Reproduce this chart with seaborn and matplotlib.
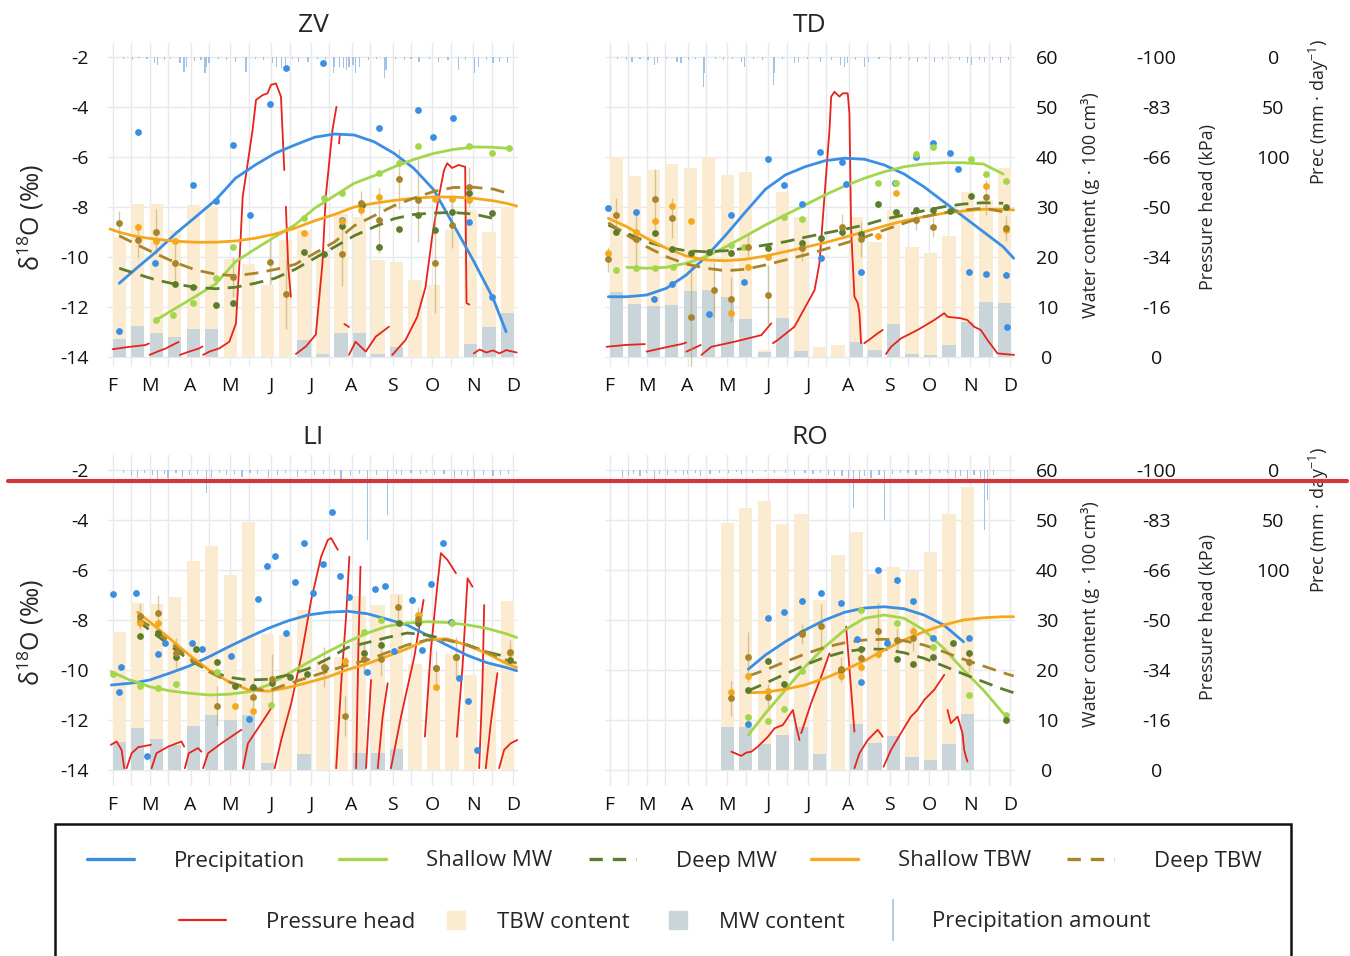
import numpy as np
import matplotlib
matplotlib.use('Agg')
import matplotlib.pyplot as plt
import seaborn as sns
from matplotlib.lines import Line2D
from matplotlib.patches import Rectangle

nan = np.nan

# ---------------- axes / ticks ----------------
MONTH_DAYS = [32, 60, 91, 121, 152, 182, 213, 244, 274, 305, 335]
MONTH_LABELS = ['F', 'M', 'A', 'M', 'J', 'J', 'A', 'S', 'O', 'N', 'D']
MID_DAYS = [46, 74, 105, 135, 166, 196, 227, 258, 288, 319]
D18O_TICKS = [-14, -12, -10, -8, -6, -4, -2]
WC_TICKS = [0, 10, 20, 30, 40, 50, 60]
PH_TICKS = [0, -16.67, -33.33, -50, -66.67, -83.33, -100]
PH_LABELS = ['0', '-16', '-34', '-50', '-66', '-83', '-100']
PREC_TICKS = [0, 50, 100]

SERIES = ['Precipitation', 'Shallow MW', 'Deep MW', 'Shallow TBW', 'Deep TBW']
BAR_DAYS = [37, 51, 65, 79, 93, 107, 121, 135, 149, 163, 177, 191, 205, 219, 233, 247, 261, 275, 289, 303, 317, 331]

# ---------------- ZV ----------------
ZV_CURVE_DAY = [30, 37, 51, 65, 80, 95, 110, 125, 140, 155, 170, 185, 200, 215, 230, 245, 260, 275, 290, 305, 320, 330, 338]
ZV_CURVE_PREC = [nan, -11.05, -10.41, -9.79, -9.05, -8.39, -7.72, -6.85, -6.32, -5.85, -5.52, -5.21, -5.08, -5.12, -5.39, -5.85, -6.45, -7.3, -8.7, -10.12, -11.64, -12.99, nan]
ZV_CURVE_SMW = [nan, nan, nan, -12.52, -12.04, -11.57, -11.08, -10.19, -9.68, -9.19, -8.72, -8.05, -7.55, -7.05, -6.75, -6.4, -6.1, -5.86, -5.7, -5.6, -5.61, -5.65, nan]
ZV_CURVE_DMW = [nan, -10.45, -10.69, -10.92, -11.09, -11.21, -11.27, -11.21, -11.05, -10.85, -10.5, -10.05, -9.6, -9.15, -8.8, -8.47, -8.3, -8.24, -8.22, -8.28, -8.45, nan, nan]
ZV_CURVE_STBW = [-8.88, -9.01, -9.19, -9.29, -9.37, -9.41, -9.41, -9.36, -9.25, -9.08, -8.85, -8.55, -8.3, -8.0, -7.85, -7.74, -7.65, -7.6, -7.6, -7.65, -7.75, -7.85, -7.96]
ZV_CURVE_DTBW = [nan, -9.15, -9.52, -9.88, -10.23, -10.52, -10.69, -10.75, -10.65, -10.5, -10.3, -9.85, -9.4, -8.75, -8.35, -7.95, -7.65, -7.38, -7.22, -7.21, -7.28, -7.43, nan]

ZV_PT_PREC_DAY = [37, 51, 64, 93, 110, 123, 136, 151, 163, 191, 206, 234, 263, 275, 290, 302, 319]
ZV_PT_PREC = [-12.96, -4.99, -10.25, -7.12, -7.77, -5.52, -8.31, -3.87, -2.43, -2.25, -8.52, -4.85, -4.12, -5.19, -4.45, -8.59, -11.59]
ZV_PT_SMW_DAY = [65, 78, 93, 110, 123, 177, 192, 206, 234, 249, 263, 302, 319, 332]
ZV_PT_SMW = [-12.5, -12.32, -11.85, -10.83, -9.61, -8.45, -7.65, -7.45, -6.65, -6.23, -5.56, -5.55, -5.85, -5.65]
ZV_PT_DMW_DAY = [79, 93, 110, 123, 177, 192, 206, 221, 234, 249, 263, 276, 289, 302, 319]
ZV_PT_DMW = [-11.08, -11.19, -11.92, -11.85, -9.8, -9.89, -8.78, -7.92, -9.6, -8.89, -8.3, -8.92, -8.2, -7.45, -8.25]
ZV_PT_STBW_DAY = [51, 65, 79, 177, 206, 220, 234, 276, 289, 302]
ZV_PT_STBW = [-8.81, -9.35, -9.35, -9.03, -8.57, -8.1, -7.6, -7.67, -7.67, -7.7]
ZV_PT_DTBW_DAY = [37, 51, 65, 79, 123, 151, 163, 206, 220, 234, 249, 263, 276, 289, 302]
ZV_PT_DTBW = [-8.65, -9.32, -8.99, -10.23, -10.79, -10.19, -11.49, -9.87, -7.85, -8.53, -6.89, -7.7, -10.25, -8.73, -7.2]
ZV_PT_DTBW_ERR = [0.5, 0.7, 0.9, 0.8, 0.8, 0.9, 1.4, 1.3, 0.5, 1.3, 1.2, 1.7, 2.0, 0.9, 0.8]

ZV_TBW = [24.1, 30.7, 30.7, 25.5, 30.4, 30.2, 19.7, 18.7, 14.4, 23.4, 25.4, 21.4, 28.7, 28.0, 19.4, 19.1, 15.4, 14.4, 25.4, 29.4, 25.1, 30.1]
ZV_MW = [3.7, 6.2, 4.9, 4.1, 5.7, 5.6, 0, 0, 0, 0, 3.4, 0.7, 4.9, 4.9, 0.7, 2.1, 0, 0, 0, 2.6, 6.1, 8.9]

ZV_PH_DAY = [32, 45, 57, 59.5, nan, 60, 66, 72.5, 80, 82, nan, 83, 90, 97.7, 100, nan,
             100.5, 105.3, 112.9, 120.4, 125.4, 128, 130.5, 134.3, 138, 140.6, 145.6, 149.4, 151.9, 155.7, 159.5, 162, nan,
             163.2, 165, 167, nan, 170.8, 178.3, 185.9, 190.9, 193.4, 198.5, 201.5, nan, 203.5, 204, nan,
             207.5, 211, nan, 211, 216, 223.7, 231.3, 241.3, nan,
             243.8, 253.9, 262.7, 269, 274, 279, 283, 285.4, 289, 294, 299, 300, 302, nan,
             305.5, 310, 315, 320, 325, 330, 338]
ZV_PH_KPA = [-2.6, -3.4, -4, -4.5, nan, -0.7, -1.8, -2.9, -4.6, -5, nan, -0.7, -1.8, -2.9, -3.5, nan,
             -0.7, -1.8, -2.9, -5.1, -11.2, -31.2, -53.4, -64.6, -75.7, -85.7, -87.3, -87.9, -90.7, -91.2, -86.8, -62.3, nan,
             -50.1, -30, -20.1, nan, -1, -3.5, -7.5, -31.2, -53.4, -75.7, -83.4, nan, -71.2, -74, nan,
             -11, -10, nan, -0.7, -5.1, -1.8, -6.8, -10.1, nan,
             -0.7, -5.7, -13.4, -23.4, -40.1, -53.4, -62.3, -64.6, -63, -64, -63.4, -18, -17.5, nan,
             -1.2, -2.5, -1.5, -2.2, -1.2, -2.3, -1.5]

ZV_RAIN_DAY = [40, 47, 52, 58, 64, 66, 71, 76, 83, 86, 88, 94, 99, 102, 103, 105, 112, 118, 125, 133, 140, 146, 153, 156, 160, 163, 168, 173, 180, 187, 193, 199, 200, 204, 207, 209, 211, 214, 216, 219, 226, 232, 238, 239, 246, 253, 258, 264, 272, 279, 286, 294, 299, 306, 309, 315, 320, 325, 331]
ZV_RAIN_MM = [2, 3, 1, 2, 6, 8, 3, 2, 6, 15, 10, 4, 3, 16, 10, 6, 2, 3, 5, 15, 2, 3, 6, 10, 11, 8, 2, 5, 5, 2, 3, 16, 10, 10, 11, 13, 10, 8, 16, 10, 3, 2, 21, 13, 2, 3, 2, 5, 2, 5, 3, 13, 3, 16, 10, 3, 6, 5, 6]

# ---------------- TD ----------------
TD_CURVE_DAY = [31, 45, 60, 75, 90, 105, 120, 135, 150, 165, 180, 195, 210, 225, 240, 255, 270, 285, 300, 315, 330, 338]
TD_CURVE_PREC = [-11.59, -11.59, -11.52, -11.25, -10.72, -9.99, -9.12, -8.19, -7.29, -6.72, -6.39, -6.15, -6.05, -6.09, -6.32, -6.68, -7.19, -7.79, -8.39, -8.99, -9.59, -10.05]
TD_CURVE_SMW = [nan, -10.41, -10.45, -10.41, -10.25, -9.99, -9.59, -9.16, -8.72, -8.32, -7.92, -7.52, -7.16, -6.85, -6.59, -6.39, -6.28, -6.23, -6.23, -6.28, -6.68, nan]
TD_CURVE_DMW = [-8.72, -9.05, -9.39, -9.61, -9.75, -9.79, -9.75, -9.65, -9.52, -9.39, -9.21, -9.05, -8.89, -8.72, -8.49, -8.32, -8.15, -7.99, -7.88, -7.83, -7.85, nan]
TD_CURVE_STBW = [-8.45, -8.79, -9.25, -9.65, -9.96, -10.12, -10.15, -10.09, -9.96, -9.79, -9.61, -9.43, -9.21, -8.99, -8.76, -8.55, -8.39, -8.25, -8.16, -8.09, -8.09, -8.12]
TD_CURVE_DTBW = [-8.63, -9.12, -9.59, -9.99, -10.28, -10.45, -10.55, -10.49, -10.32, -10.12, -9.92, -9.69, -9.45, -9.21, -8.92, -8.65, -8.39, -8.23, -8.12, -8.05, -8.19, nan]

TD_PT_PREC_DAY = [31, 52, 65.5, 79, 107, 124, 134, 152, 164, 178, 191, 192, 208, 211, 222, 248, 264, 277, 290, 296, 304, 317, 332, 333]
TD_PT_PREC = [-8.05, -8.21, -11.69, -11.08, -12.29, -8.32, -10.99, -6.08, -7.12, -7.88, -5.81, -10.05, -6.19, -7.09, -10.59, -7.05, -5.99, -5.45, -5.83, -6.48, -10.61, -10.69, -10.72, -12.79]
TD_PT_SMW_DAY = [37, 52, 66, 80, 124, 134, 164, 178, 235, 249, 264, 277, 306, 317, 332]
TD_PT_SMW = [-10.52, -10.43, -10.43, -10.39, -9.52, -9.59, -8.41, -8.48, -7.03, -7.05, -5.89, -5.59, -6.09, -6.69, -6.95]
TD_PT_DMW_DAY = [37, 66, 79, 94, 107, 124, 152, 178, 192, 208, 222, 235, 249, 264, 277, 290, 306, 332]
TD_PT_DMW = [-9.01, -9.05, -9.68, -9.83, -9.79, -9.85, -9.65, -9.43, -9.25, -8.99, -9.08, -7.89, -8.19, -8.12, -8.12, -8.15, -7.55, -8.01]
TD_PT_STBW_DAY = [31, 52, 66, 79, 94, 124, 137, 152, 235, 249, 317, 332]
TD_PT_STBW = [-9.85, -8.99, -8.55, -7.95, -8.55, -12.23, -10.41, -9.99, -9.16, -7.45, -7.16, -8.92]
TD_PT_DTBW_DAY = [31, 37, 52, 66, 79, 94, 111, 124, 137, 152, 178, 208, 222, 264, 277, 317, 332]
TD_PT_DTBW = [-10.09, -8.32, -9.29, -7.69, -8.45, -12.39, -11.32, -11.69, -9.59, -11.52, -9.65, -8.79, -9.29, -8.52, -8.79, -7.61, -8.85]
TD_PT_DTBW_ERR = [0.5, 0.7, 1.2, 1.2, 0.8, 2.1, 1.1, 0.9, 0.5, 1.2, 0.5, 0.5, 0.7, 0.4, 0.4, 0.7, 0.5]

TD_TBW = [40.1, 36.3, 37.4, 38.7, 37.9, 40.1, 36.4, 37.1, 1.5, 33.1, 28.1, 2.1, 2.4, 28.0, 23.1, 29.4, 22.1, 20.9, 24.2, 33.1, 31.4, 37.9]
TD_MW = [13.1, 10.6, 10.2, 10.4, 13.3, 13.4, 12.1, 7.7, 1.0, 7.9, 1.3, 0, 0, 3.1, 1.4, 6.7, 0.7, 0.4, 2.4, 7.1, 11.1, 10.9]

TD_PH_DAY = [29.7, 43.6, 58.7, nan, 60, 76.3, 86.4, 90, nan, 90.2, 99, 101, nan,
             101.5, 109, 126.7, 146.9, 154.4, nan,
             155.7, 159.4, 172, 187.2, 190.9, 198.5, 199.8, 202.3, 206, 208.6, 212.3, 213.6, 214.9, 217.4, 219.9, 221.2, 222.4, nan,
             224.9, 230, 235, 238.8, nan,
             241.3, 245.1, 252.6, 265.2, 277.8, 285.4, 287.9, 298, 303, 308, 313.1, 318.1, 325.7, 338.3]
TD_PH_KPA = [-3.4, -4, -4.3, nan, -1.8, -3.4, -4.3, -4.8, nan, -1.8, -3.6, -4, nan,
             -0.7, -3.4, -5.1, -7.3, -11.2, nan,
             -4.6, -5.7, -10.1, -22.3, -31.2, -75.7, -86.8, -88.4, -86.8, -87.9, -87.9, -81.2, -42.3, -20.1, -18, -14.6, -4.6, nan,
             -4.6, -6.2, -7.9, -9, nan,
             -1, -3.4, -6.2, -9, -12.3, -14.6, -13.4, -12.9, -12.3, -10.1, -9, -5.7, -1.2, -0.7]

TD_RAIN_DAY = [38, 45, 49, 55, 61, 66, 68, 75, 83, 86, 92, 97, 103, 104, 112, 118, 125, 132, 134, 141, 148, 156, 157, 163, 172, 175, 182, 192, 200, 207, 210, 212, 218, 225, 228, 236, 245, 252, 259, 265, 271, 278, 284, 290, 297, 303, 306, 312, 316, 322, 328, 334]
TD_RAIN_MM = [2, 3, 5, 2, 3, 8, 6, 2, 5, 6, 3, 2, 30, 16, 2, 3, 2, 5, 10, 2, 3, 28, 16, 2, 6, 5, 2, 5, 3, 8, 10, 6, 3, 10, 5, 2, 3, 2, 3, 5, 2, 5, 3, 2, 3, 6, 8, 3, 5, 3, 6, 3]

# ---------------- LI ----------------
LI_CURVE_DAY = [31, 45, 51, 60, 75, 90, 105, 120, 135, 150, 165, 180, 195, 210, 225, 240, 255, 270, 285, 300, 315, 330, 338]
LI_CURVE_PREC = [-10.6, -10.53, -10.49, -10.4, -10.13, -9.84, -9.47, -9.07, -8.69, -8.33, -8.03, -7.8, -7.69, -7.65, -7.75, -7.97, -8.2, -8.6, -9.0, -9.4, -9.7, -9.9, -10.03]
LI_CURVE_SMW = [-10.07, -10.4, -10.49, -10.67, -10.83, -10.93, -11.0, -10.97, -10.87, -10.6, -10.15, -9.7, -9.27, -8.87, -8.52, -8.25, -8.12, -8.07, -8.1, -8.19, -8.33, -8.55, -8.7]
LI_CURVE_DMW = [nan, nan, -8.03, -8.4, -9.0, -9.6, -10.03, -10.29, -10.4, -10.37, -10.2, -9.95, -9.55, -9.1, -8.9, -8.7, -8.52, -8.6, -8.78, -8.98, -9.27, -9.47, nan]
LI_CURVE_STBW = [nan, nan, -7.69, -8.07, -8.73, -9.4, -10.0, -10.47, -10.8, -10.85, -10.7, -10.5, -10.28, -9.98, -9.75, -9.45, -9.15, -8.8, -8.75, -9.0, -9.33, -9.73, -9.9]
LI_CURVE_DTBW = [nan, nan, -7.93, -8.24, -8.87, -9.53, -10.07, -10.47, -10.73, -10.83, -10.55, -10.3, -10.05, -9.8, -9.6, -9.3, -9.0, -8.8, -8.8, -9.0, -9.27, -9.6, -9.73]

LI_PT_PREC_DAY = [32, 37, 38, 50, 58, 66, 72, 92, 100, 122, 135, 142, 149, 155, 163, 170, 177, 184, 191, 198, 204, 211, 225, 231, 238, 245, 259, 266, 273, 282, 288, 294, 301, 308]
LI_PT_PREC = [-6.97, -10.89, -9.87, -6.93, -13.44, -9.37, -8.91, -8.91, -9.16, -9.43, -11.97, -7.17, -5.83, -5.44, -8.53, -6.47, -4.93, -6.93, -5.76, -3.69, -6.23, -7.07, -10.07, -6.76, -6.63, -9.23, -7.2, -9.2, -6.56, -4.93, -8.09, -10.33, -11.23, -13.2]
LI_PT_SMW_DAY = [32, 53, 66, 80, 111, 152, 222, 235, 264, 289]
LI_PT_SMW = [-10.16, -10.64, -10.73, -10.57, -10.07, -11.4, -8.49, -8.0, -7.8, -8.11]
LI_PT_DMW_DAY = [53, 66, 80, 95, 111, 125, 138, 153, 166, 179, 193, 222, 235, 249, 263, 277, 292, 333]
LI_PT_DMW = [-8.63, -8.51, -9.47, -9.16, -9.69, -10.64, -10.67, -10.53, -10.29, -10.16, -9.93, -9.31, -9.0, -8.13, -8.13, -9.93, -9.47, -9.6]
LI_PT_STBW_DAY = [53, 66, 125, 138, 208, 263, 277, 333]
LI_PT_STBW = [-8.11, -8.13, -11.44, -11.63, -9.63, -7.8, -10.69, -9.3]
LI_PT_DTBW_DAY = [53, 66, 80, 111, 138, 153, 192, 208, 222, 235, 248, 263, 277, 292, 333]
LI_PT_DTBW = [-7.85, -7.71, -9.3, -11.44, -11.07, -10.37, -9.89, -11.83, -9.55, -9.55, -7.49, -7.96, -9.93, -9.49, -9.29]
LI_PT_DTBW_ERR = [0.5, 0.7, 0.6, 0.8, 0.6, 1.0, 0.8, 0.8, 0.6, 0.7, 0.5, 0.5, 0.7, 0.8, 0.5]

LI_TBW = [27.7, 33.5, 33.3, 34.7, 41.9, 44.8, 39.0, 49.7, 27.3, 27.0, 32.1, 22.0, 22.7, 34.8, 33.0, 35.2, 21.3, 20.0, 23.3, 19.0, 21.0, 33.9]
LI_MW = [5.7, 8.5, 6.3, 5.0, 8.8, 11.0, 10.0, 11.0, 1.5, 0, 3.3, 0, 0, 3.5, 3.5, 4.3, 0, 0, 0, 0, 0, 0]

LI_PH_DAY = [30.7, 35, 38.8, 40.8, nan, 42.6, 46.4, 51.4, 61, nan, 61.5, 65.2, 74.1, 84.1, 86.2, nan,
             86.7, 89.7, 96.7, 99.3, nan, 100.5, 104.3, 114.4, 129.5, nan, 130.7, 134.5, 142.1, 149.6, 152.7, nan,
             154.7, 159.7, 167.3, 174.8, 182.4, 189.9, 195, 197.5, 202.5, nan, 201.3, 205.1, 208.8, 211.3, nan,
             216.4, 218.1, 219.7, nan, 223.9, 227.7, nan, 232.8, 236.5, 240.3, nan, 242.8, 250.4, 260.5, 267.5, nan,
             268.5, 273, 278.1, 280.6, 285.6, 292, nan, 292.7, 297, 300.8, 304.5, nan, 309.6, 312.1, 313.4, nan,
             314.6, 318.4, 323.4, nan, 324.7, 328.5, 333.5, 338.5]
LI_PH_KPA = [-8.4, -9.5, -6.7, -0.6, nan, -0.6, -5.6, -7.6, -8.4, nan, -0.6, -5.6, -7.8, -9.5, -7.8, nan,
             -0.6, -5.6, -7.3, -6.1, nan, -0.6, -5.6, -8.9, -13.4, nan, -0.6, -8.9, -13.9, -18.9, -21.1, nan,
             -0.6, -10, -22.3, -37.8, -56.7, -71.1, -76.7, -77.3, -73.4, nan, -0.6, -28.9, -51.1, -71.1, nan,
             -0.6, -40, -67.8, nan, -0.6, -30, nan, -0.6, -17.8, -28.9, nan, -0.6, -17.8, -37.8, -56.7, nan,
             -11.1, -40, -62.3, -72.3, -70, -65.6, nan, -11.1, -34.5, -63.9, -61.1, nan, -0.6, -28.9, -55, nan,
             -0.6, -15.6, -32.3, nan, -0.6, -6.7, -8.9, -10]

LI_RAIN_DAY = [40, 46, 51, 56, 62, 66, 71, 74, 80, 85, 90, 96, 103, 107, 113, 118, 124, 130, 136, 142, 150, 157, 163, 172, 178, 185, 192, 200, 205, 212, 219, 225, 232, 240, 247, 251, 258, 265, 270, 276, 283, 291, 296, 301, 306, 313, 320, 326, 332]
LI_RAIN_MM = [3, 5, 8, 3, 5, 13, 4, 8, 3, 7, 5, 4, 23, 8, 3, 5, 4, 7, 3, 4, 8, 5, 3, 7, 3, 5, 4, 5, 10, 6, 4, 70, 5, 45, 4, 5, 3, 4, 3, 5, 4, 8, 5, 6, 8, 5, 6, 5, 4]

# ---------------- RO ----------------
RO_CURVE_DAY = [137, 150, 165, 180, 195, 210, 225, 240, 255, 270, 285, 300, 315, 330, 338]
RO_CURVE_PREC = [-9.97, -9.4, -8.87, -8.4, -8.0, -7.69, -7.52, -7.47, -7.55, -7.8, -8.2, -8.87, nan, nan, nan]
RO_CURVE_SMW = [-12.6, -11.73, -10.8, -9.87, -9.07, -8.4, -7.93, -7.8, -7.93, -8.4, -9.13, -10.0, -10.8, -11.73, nan]
RO_CURVE_DMW = [-10.83, -10.53, -10.16, -9.8, -9.49, -9.27, -9.16, -9.17, -9.31, -9.53, -9.84, -10.16, -10.47, -10.77, -10.91]
RO_CURVE_STBW = [-10.91, -10.89, -10.77, -10.6, -10.33, -10.0, -9.63, -9.2, -8.8, -8.47, -8.2, -8.0, -7.91, -7.87, -7.87]
RO_CURVE_DTBW = [-10.24, -10.0, -9.67, -9.36, -9.09, -8.91, -8.8, -8.77, -8.83, -9.0, -9.27, -9.57, -9.84, -10.11, -10.24]

RO_PT_PREC_DAY = [137, 152, 164, 178, 192, 207, 219, 222, 235, 242, 250, 262, 277, 304]
RO_PT_PREC = [-12.16, -7.91, -7.68, -7.23, -6.91, -7.33, -8.77, -10.47, -6.0, -8.93, -6.4, -7.23, -8.73, -8.73]
RO_PT_SMW_DAY = [137, 152, 164, 178, 222, 250, 277, 304, 332]
RO_PT_SMW = [-11.87, -12.03, -11.57, -10.03, -7.6, -8.1, -9.07, -11.0, -11.8]
RO_PT_DMW_DAY = [137, 152, 164, 178, 207, 222, 250, 262, 277, 292, 304, 332]
RO_PT_DMW = [-10.8, -9.64, -10.56, -8.51, -10.0, -9.17, -9.56, -9.76, -9.47, -8.93, -9.31, -12.0]
RO_PT_STBW_DAY = [124, 137, 152, 207, 222, 235, 262]
RO_PT_STBW = [-10.87, -10.24, -10.84, -10.24, -9.89, -9.36, -8.43]
RO_PT_DTBW_DAY = [124, 137, 152, 178, 192, 207, 222, 235, 250, 262, 304]
RO_PT_DTBW = [-11.13, -9.49, -11.07, -8.56, -8.24, -9.97, -9.53, -8.43, -8.8, -8.73, -9.67]
RO_PT_DTBW_ERR = [0.7, 1.0, 0.5, 0.4, 0.9, 0.5, 0.5, 1.1, 0.5, 0.5, 0.4]

RO_TBW = [nan, nan, nan, nan, nan, nan, 49.5, 52.5, 53.9, 49.2, 51.2, 34.0, 43.0, 47.7, 39.3, 40.7, 39.9, 43.7, 51.3, 56.7, nan, nan]
RO_MW = [nan, nan, nan, nan, nan, nan, 8.7, 8.7, 5.3, 7.0, 8.7, 3.3, 0, 9.3, 5.5, 6.8, 2.7, 2.0, 5.3, 11.3, nan, nan]

RO_PH_DAY = [124.2, 128, 131.7, 135.5, 139.3, 144.3, 151.9, 156.9, 163.2, 168.3, 170.8, 173.3, 175.8, nan,
             177.1, 184.6, 192.2, 198.5, nan, 211.1, 217.4, nan,
             217.4, 221.2, 227.5, 235, 238.8, nan,
             239.5, 245.1, 252.6, 260.2, 265.2, 270.3, 277.8, 285.4, nan,
             287.9, 290.4, 293, 295.5, 299.2, 300.5, 301.8, 303]
RO_PH_KPA = [-6.1, -5.4, -4.7, -5.8, -6.1, -7.8, -11.1, -13.9, -15, -18.4, -20, -14.5, -10, nan,
             -12.3, -22.3, -31.1, -38.9, nan, -47.8, -12.8, nan,
             -0.6, -5.6, -10, -13.4, -11.1, nan,
             -1.1, -6.7, -12.3, -17.8, -20, -23.4, -26.7, -31.7, nan,
             -20, -15.6, -16.7, -17.8, -12.3, -6.7, -4.5, -2.8]

RO_RAIN_DAY = [42, 46, 50, 55, 60, 66, 70, 76, 82, 88, 91, 97, 101, 108, 115, 122, 128, 132, 140, 150, 157, 165, 172, 180, 186, 192, 198, 202, 208, 213, 217, 221, 225, 230, 236, 240, 246, 252, 258, 264, 268, 275, 282, 288, 294, 298, 303, 308, 313, 316, 318, 323]
RO_RAIN_MM = [8, 6, 4, 6, 3, 10, 4, 5, 3, 5, 4, 3, 6, 4, 3, 3, 2, 4, 3, 2, 3, 3, 5, 3, 4, 3, 5, 6, 6, 8, 38, 10, 6, 8, 5, 50, 4, 3, 3, 5, 3, 4, 3, 3, 8, 6, 10, 5, 8, 60, 30, 5]

# ---------------- style ----------------
C_SERIES = ['#3a8ee3', '#a3d64a', '#5d7d2c', '#f5a81c', '#a8852a']
DASHED = [False, False, True, False, True]
C_TBW = '#fbebd0'
C_MW = '#c9d5d8'
C_RAIN = '#a3c3e6'
C_PH = '#e8231c'
C_GRID = '#e6eaee'
C_ERR = '#b9a25a'
FS_TICK = 14

sns.set_theme(style='white')
plt.rcParams['font.family'] = ['Open Sans', 'DejaVu Sans']
plt.rcParams['axes.unicode_minus'] = False
plt.rcParams['mathtext.fontset'] = 'custom'
plt.rcParams['mathtext.rm'] = 'Open Sans'
plt.rcParams['mathtext.it'] = 'Open Sans:italic'
plt.rcParams['mathtext.bf'] = 'Open Sans:bold'

fig = plt.figure(figsize=(13.5, 9.56), dpi=100)

ROWS = {0: dict(bottom=(956 - 367) / 956, height=324 / 956, dlim=(-14.4, -1.44), dlab=0.46, lab=(0.5, 0.494, 0.787)),
        1: dict(bottom=(956 - 786) / 956, height=331 / 956, dlim=(-14.64, -1.4), dlab=0.465, lab=(0.52, 0.51, 0.804))}
COLS = {0: 108 / 1350, 1: 605 / 1350}

PANELS = [
    dict(title='ZV', row=0, col=0, cday=ZV_CURVE_DAY,
         curves=[ZV_CURVE_PREC, ZV_CURVE_SMW, ZV_CURVE_DMW, ZV_CURVE_STBW, ZV_CURVE_DTBW],
         pts=[(ZV_PT_PREC_DAY, ZV_PT_PREC), (ZV_PT_SMW_DAY, ZV_PT_SMW), (ZV_PT_DMW_DAY, ZV_PT_DMW),
              (ZV_PT_STBW_DAY, ZV_PT_STBW), (ZV_PT_DTBW_DAY, ZV_PT_DTBW)], err=ZV_PT_DTBW_ERR,
         tbw=ZV_TBW, mw=ZV_MW, ph=(ZV_PH_DAY, ZV_PH_KPA), rain=(ZV_RAIN_DAY, ZV_RAIN_MM)),
    dict(title='TD', row=0, col=1, cday=TD_CURVE_DAY,
         curves=[TD_CURVE_PREC, TD_CURVE_SMW, TD_CURVE_DMW, TD_CURVE_STBW, TD_CURVE_DTBW],
         pts=[(TD_PT_PREC_DAY, TD_PT_PREC), (TD_PT_SMW_DAY, TD_PT_SMW), (TD_PT_DMW_DAY, TD_PT_DMW),
              (TD_PT_STBW_DAY, TD_PT_STBW), (TD_PT_DTBW_DAY, TD_PT_DTBW)], err=TD_PT_DTBW_ERR,
         tbw=TD_TBW, mw=TD_MW, ph=(TD_PH_DAY, TD_PH_KPA), rain=(TD_RAIN_DAY, TD_RAIN_MM)),
    dict(title='LI', row=1, col=0, cday=LI_CURVE_DAY,
         curves=[LI_CURVE_PREC, LI_CURVE_SMW, LI_CURVE_DMW, LI_CURVE_STBW, LI_CURVE_DTBW],
         pts=[(LI_PT_PREC_DAY, LI_PT_PREC), (LI_PT_SMW_DAY, LI_PT_SMW), (LI_PT_DMW_DAY, LI_PT_DMW),
              (LI_PT_STBW_DAY, LI_PT_STBW), (LI_PT_DTBW_DAY, LI_PT_DTBW)], err=LI_PT_DTBW_ERR,
         tbw=LI_TBW, mw=LI_MW, ph=(LI_PH_DAY, LI_PH_KPA), rain=(LI_RAIN_DAY, LI_RAIN_MM)),
    dict(title='RO', row=1, col=1, cday=RO_CURVE_DAY,
         curves=[RO_CURVE_PREC, RO_CURVE_SMW, RO_CURVE_DMW, RO_CURVE_STBW, RO_CURVE_DTBW],
         pts=[(RO_PT_PREC_DAY, RO_PT_PREC), (RO_PT_SMW_DAY, RO_PT_SMW), (RO_PT_DMW_DAY, RO_PT_DMW),
              (RO_PT_STBW_DAY, RO_PT_STBW), (RO_PT_DTBW_DAY, RO_PT_DTBW)], err=RO_PT_DTBW_ERR,
         tbw=RO_TBW, mw=RO_MW, ph=(RO_PH_DAY, RO_PH_KPA), rain=(RO_RAIN_DAY, RO_RAIN_MM)),
]


def strip(ax):
    for s in ax.spines.values():
        s.set_visible(False)


def center_labels(ax):
    for t in ax.get_yticklabels():
        t.set_horizontalalignment('center')


for p in PANELS:
    r = ROWS[p['row']]
    right = p['col'] == 1
    d_lo, d_hi = r['dlim']
    rect = [COLS[p['col']], r['bottom'], 410 / 1350, r['height']]

    # base axes: water content bars, grid, months
    base = fig.add_axes(rect)
    strip(base)
    base.set_facecolor('white')
    base.set_xlim(28.5, 339)
    base.set_ylim((d_lo + 14) * 5, (d_hi + 14) * 5)
    base.set_xticks(MONTH_DAYS, MONTH_LABELS)
    base.set_xticks(MID_DAYS, minor=True)
    base.grid(True, which='both', axis='x', color=C_GRID, lw=1.0)
    base.grid(True, which='major', axis='y', color=C_GRID, lw=1.0)
    base.set_axisbelow(True)
    base.tick_params(axis='x', which='both', length=0, pad=7, labelsize=FS_TICK, colors='#111111')
    tbw = np.array(p['tbw'], dtype=float)
    mw = np.array(p['mw'], dtype=float)
    bd = np.array(BAR_DAYS, dtype=float)
    ok = ~np.isnan(tbw)
    base.bar(bd[ok], tbw[ok], width=10, color=C_TBW, lw=0, zorder=2)
    base.bar(bd[ok], mw[ok], width=10, color=C_MW, lw=0, zorder=3)
    base.set_title(p['title'], fontsize=19, pad=8)

    # precipitation amount axis (inverted)
    axp = base.twinx()
    strip(axp)
    axp.bar(p['rain'][0], p['rain'][1], width=0.9, color=C_RAIN, lw=0)
    axp.set_ylim((-2 - d_lo) * 25, (-2 - d_hi) * 25)
    axp.set_yticks(PREC_TICKS, [str(v) for v in PREC_TICKS])
    axp.tick_params(axis='y', length=0, pad=186, labelsize=FS_TICK, labelright=right, colors='#111111')
    center_labels(axp)

    # pressure head axis
    axh = base.twinx()
    strip(axh)
    axh.plot(p['ph'][0], p['ph'][1], color=C_PH, lw=1.3)
    axh.set_ylim(-(d_lo + 14) * 5 * 100 / 60, -(d_hi + 14) * 5 * 100 / 60)
    axh.set_yticks(PH_TICKS, PH_LABELS)
    axh.tick_params(axis='y', length=0, pad=102, labelsize=FS_TICK, labelright=right, colors='#111111')
    center_labels(axh)

    # delta 18O axis on top
    axd = base.twinx()
    strip(axd)
    axd.yaxis.tick_left()
    axd.yaxis.set_label_position('left')
    dtx, dty = p['pts'][4]
    axd.errorbar(dtx, dty, yerr=p['err'], fmt='none', ecolor=C_ERR, elinewidth=1.0, alpha=0.55, zorder=3)
    for i, vals in enumerate(p['curves']):
        sns.lineplot(x=p['cday'], y=vals, ax=axd, color=C_SERIES[i], lw=2.0,
                     estimator=None, sort=False, zorder=4)
        if DASHED[i]:
            axd.lines[-1].set_dashes([5, 3])
    for i, (dx, dy) in enumerate(p['pts']):
        sns.scatterplot(x=dx, y=dy, ax=axd, color=C_SERIES[i], s=24, linewidth=0, zorder=5)
    axd.set_ylim(d_lo, d_hi)
    axd.set_yticks(D18O_TICKS, [str(v) for v in D18O_TICKS])
    axd.tick_params(axis='y', length=0, pad=14, labelsize=FS_TICK, labelleft=not right,
                    labelright=False, left=False, right=False, colors='#111111')
    axd.set_xlabel('')

    # water content ticks on the right (after twins, which move parent ticks left)
    base.yaxis.tick_right()
    base.set_yticks(WC_TICKS, [str(v) for v in WC_TICKS])
    base.tick_params(axis='y', length=0, pad=23, labelsize=FS_TICK, labelright=right,
                     labelleft=False, left=False, right=False, colors='#111111')
    center_labels(base)

    if not right:
        axd.set_ylabel(r'δ$^{18}$O (‰)', fontsize=18, va='center')
        axd.yaxis.set_label_coords(-0.188, r['dlab'])
    else:
        axd.set_ylabel('')
        base.set_ylabel('Water content (g · 100 cm³)', fontsize=13, va='center', rotation=90)
        base.yaxis.set_label_coords(1.183, r['lab'][0])
        axh.set_ylabel('Pressure head (kPa)', fontsize=13, va='center', rotation=90)
        axh.yaxis.set_label_coords(1.471, r['lab'][1])
        axp.set_ylabel(r'Prec (mm · day$^{-1}$)', fontsize=13, va='center', rotation=90)
        axp.yaxis.set_label_coords(1.741, r['lab'][2])

# ---------------- red separator line ----------------
fig.add_artist(Line2D([8 / 1350, 1347 / 1350], [1 - 481 / 956] * 2, color='#d2383b', lw=3.0, zorder=20))

# ---------------- legend ----------------
fig.add_artist(Rectangle((55 / 1350, -0.02), (1291 - 55) / 1350, (956 - 824) / 956 + 0.02,
                         transform=fig.transFigure, fill=False, ec='#111111', lw=1.8))
FS_LEG = 16
EM = FS_LEG * 100 / 72


def entry(handle, label, text_x, y_px, L, P):
    x0 = (text_x - (L + P) * EM) / 1350
    fig.legend(handles=[handle], labels=[label], loc='center left', bbox_to_anchor=(x0, 1 - y_px / 956),
               bbox_transform=fig.transFigure, frameon=False, borderpad=0, borderaxespad=0,
               handlelength=L, handletextpad=P, fontsize=FS_LEG)


row1_text_x = [174, 426, 676, 898, 1154]
for i, name in enumerate(SERIES):
    h = Line2D([], [], color=C_SERIES[i], lw=2.4)
    if DASHED[i]:
        h.set_dashes([4, 3])
    entry(h, name, row1_text_x[i], 861, 2.1, 1.8)

entry(Line2D([], [], color=C_PH, lw=1.6), 'Pressure head', 266, 922, 2.1, 1.8)
entry(Line2D([], [], marker='s', ls='', ms=13, color=C_TBW), 'TBW content', 497, 922, 2.1, 0.8)
entry(Line2D([], [], marker='s', ls='', ms=13, color=C_MW), 'MW content', 719, 922, 2.1, 0.8)
entry(Line2D([], [], marker='|', ls='', ms=30, mew=1.2, color=C_RAIN), 'Precipitation amount', 932, 922, 2.1, 0.7)

fig.savefig('out.png', dpi=100, facecolor='white')
